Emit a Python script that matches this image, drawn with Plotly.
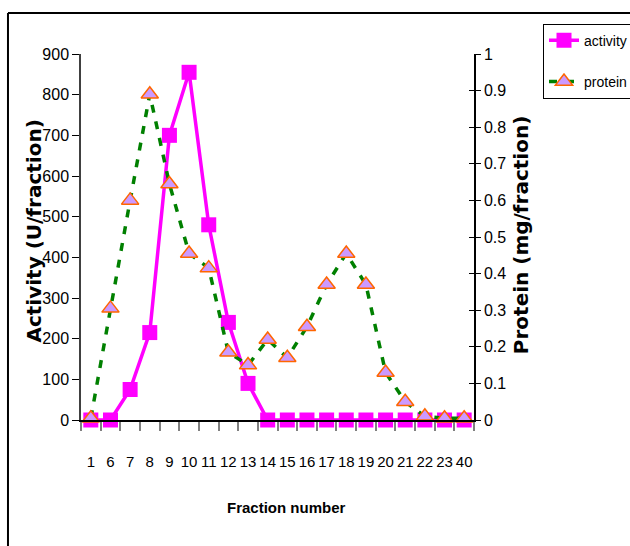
import plotly.graph_objects as go

fractions = ["1", "6", "7", "8", "9", "10", "11", "12", "13", "14",
             "15", "16", "17", "18", "19", "20", "21", "22", "23", "40"]
activity = [0, 0, 75, 215, 700, 855, 480, 240, 90, 0,
            0, 0, 0, 0, 0, 0, 0, 0, 0, 0]
protein = [0.005, 0.305, 0.60, 0.89, 0.645, 0.455, 0.415, 0.185, 0.15, 0.22,
           0.17, 0.255, 0.37, 0.455, 0.37, 0.13, 0.05, 0.01, 0.005, 0.005]
act_ticks = list(range(0, 901, 100))
prot_ticks = [round(i * 0.1, 1) for i in range(11)]

NARROW = "Liberation Sans, Arial, sans-serif"
WIDE = "DejaVu Sans, Verdana, sans-serif"

fig = go.Figure()
fig.add_trace(go.Scatter(
    x=fractions, y=activity, name="activity", mode="lines+markers",
    line=dict(color="#ff00ff", width=3.5),
    marker=dict(symbol="square", size=15, color="#ff00ff"),
    cliponaxis=False, legendgroup="a", yaxis="y"))
fig.add_trace(go.Scatter(
    x=fractions, y=protein, name="protein", mode="lines+markers",
    line=dict(color="#008000", width=3.5, dash="8px,9px"),
    marker=dict(symbol="triangle-up", size=15, color="#cc99ff",
                line=dict(color="#ff6600", width=1.5)),
    cliponaxis=False, legendgroup="p", yaxis="y2"))

fig.update_layout(
    width=630, height=546,
    margin=dict(l=81, r=156, t=54, b=126, autoexpand=False),
    paper_bgcolor="white", plot_bgcolor="white",
    showlegend=True,
    legend=dict(x=1.1756, y=1.083, xanchor="left", yanchor="top",
                bordercolor="black", borderwidth=1, bgcolor="white",
                font=dict(family=NARROW, size=14, color="black"),
                tracegroupgap=20),
    xaxis=dict(type="category", categoryorder="array", categoryarray=fractions,
               range=[-0.5, 19.5], tickson="boundaries", ticks="outside",
               ticklen=9, tickcolor="#808080", tickwidth=1.5, tickangle=0,
               showline=True, linecolor="black", linewidth=2,
               showgrid=False, zeroline=False, ticklabelstandoff=27,
               tickfont=dict(family=NARROW, size=15, color="black")),
    yaxis=dict(range=[0, 900], tickvals=act_ticks, ticks="outside", ticklen=7,
               tickcolor="black", showline=True, linecolor="#404040", linewidth=1.5,
               showgrid=False, zeroline=False,
               tickfont=dict(family=NARROW, size=16, color="black")),
    yaxis2=dict(range=[0, 1], tickvals=prot_ticks, overlaying="y", side="right",
                anchor="x", ticks="outside", ticklen=5, tickcolor="black",
                showline=True, linecolor="black", linewidth=1.5,
                showgrid=False, zeroline=False,
                tickfont=dict(family=NARROW, size=16, color="black")),
    yaxis3=dict(range=[0, 1], tickvals=prot_ticks, overlaying="y", side="right",
                anchor="x", ticks="inside", ticklen=5, tickcolor="black",
                showticklabels=False, showline=False, showgrid=False,
                zeroline=False),
    annotations=[
        dict(text="<b>Activity (U/fraction)</b>", xref="paper", yref="paper",
             x=-0.122, y=0.515, textangle=-90, showarrow=False,
             xanchor="center", yanchor="middle",
             font=dict(family=WIDE, size=20, color="black")),
        dict(text="<b>Protein (mg/fraction)</b>", xref="paper", yref="paper",
             x=1.1196, y=0.505, textangle=-90, showarrow=False,
             xanchor="center", yanchor="middle",
             font=dict(family=WIDE, size=20, color="black")),
        dict(text="<b>Fraction number</b>", xref="paper", yref="paper",
             x=0.523, y=-0.240, showarrow=False,
             xanchor="center", yanchor="middle",
             font=dict(family=NARROW, size=15, color="black")),
    ],
    shapes=[
        dict(type="line", xref="paper", yref="paper",
             x0=-0.1858, x1=1.45, y0=1.112, y1=1.112,
             line=dict(color="black", width=2)),
        dict(type="line", xref="paper", yref="paper",
             x0=-0.1858, x1=-0.1858, y0=1.112, y1=-0.40,
             line=dict(color="black", width=2)),
    ],
)
# dummy trace to activate yaxis3 for the crossing ticks on the right axis
fig.add_trace(go.Scatter(x=[fractions[0]], y=[None], yaxis="y3",
                         showlegend=False, hoverinfo="skip"))

fig.write_html("out.html")
